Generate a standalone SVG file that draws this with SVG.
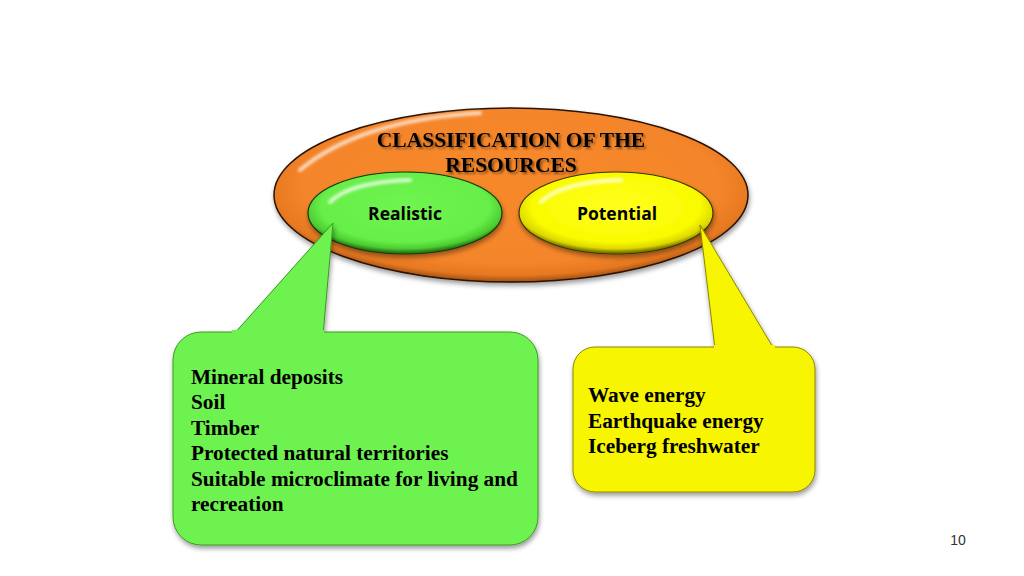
<svg xmlns="http://www.w3.org/2000/svg" width="1024" height="576" viewBox="0 0 1024 576">
<defs>
<style>
.serif{font-family:"Liberation Serif","Times New Roman",serif;font-weight:bold;fill:#000}
.sans{font-family:"Open Sans","Liberation Sans",Arial,sans-serif;font-weight:bold;fill:#000}
.title{font-size:21.5px;text-anchor:middle}
.item{font-size:21.3px}
.lbl{font-size:17.5px;text-anchor:middle}
.gloss{fill:none;stroke:#fff;stroke-linecap:round}
</style>
<radialGradient id="gOr" cx="0.5" cy="0.45" r="0.55">
<stop offset="0" stop-color="#f7892a"/><stop offset="0.8" stop-color="#f5852a"/><stop offset="0.93" stop-color="#e57820"/><stop offset="1" stop-color="#a04e12"/>
</radialGradient>
<radialGradient id="gGr" cx="0.5" cy="0.42" r="0.56">
<stop offset="0" stop-color="#70f550"/><stop offset="0.78" stop-color="#66ee48"/><stop offset="0.92" stop-color="#4ccc30"/><stop offset="1" stop-color="#2a7a18"/>
</radialGradient>
<radialGradient id="gYe" cx="0.5" cy="0.42" r="0.56">
<stop offset="0" stop-color="#ffff20"/><stop offset="0.78" stop-color="#fafa00"/><stop offset="0.92" stop-color="#dcd800"/><stop offset="1" stop-color="#7d7a00"/>
</radialGradient>
<filter id="sh" x="-10%" y="-10%" width="125%" height="130%">
<feGaussianBlur in="SourceAlpha" stdDeviation="2.5"/><feOffset dx="1" dy="3" result="b"/>
<feComponentTransfer><feFuncA type="linear" slope="0.4"/></feComponentTransfer>
<feMerge><feMergeNode/><feMergeNode in="SourceGraphic"/></feMerge>
</filter>
<filter id="blur"><feGaussianBlur stdDeviation="1.5"/></filter>
<filter id="tsh" x="-5%" y="-20%" width="110%" height="140%">
<feOffset in="SourceAlpha" dx="1.5" dy="1.5"/><feGaussianBlur stdDeviation="0.8"/>
<feComponentTransfer><feFuncA type="linear" slope="0.45"/></feComponentTransfer>
<feMerge><feMergeNode/><feMergeNode in="SourceGraphic"/></feMerge>
</filter>
</defs>
<rect width="1024" height="576" fill="#fff"/>

<g id="classification">
<ellipse cx="511" cy="195" rx="237" ry="87" fill="url(#gOr)" stroke="#2a1200" stroke-width="1.5" filter="url(#sh)"/>
<path class="gloss" d="M300,170 Q360,120 480,113" stroke-width="4" opacity="0.7" filter="url(#blur)"/>
<text class="serif title" x="511" y="147" filter="url(#tsh)">CLASSIFICATION OF THE</text>
<text class="serif title" x="511" y="172" filter="url(#tsh)">RESOURCES</text>
</g>

<g id="realistic">
<ellipse cx="405" cy="213" rx="97" ry="41" fill="url(#gGr)" stroke="#103a08" stroke-width="1.2" filter="url(#sh)"/>
<path class="gloss" d="M330,202 Q350,182 410,180" stroke-width="4" opacity="0.75" filter="url(#blur)"/>
<text class="sans lbl" x="405" y="220">Realistic</text>
</g>

<g id="potential">
<ellipse cx="616" cy="213" rx="97" ry="41" fill="url(#gYe)" stroke="#3a3800" stroke-width="1.2" filter="url(#sh)"/>
<path class="gloss" d="M541,202 Q561,182 621,180" stroke-width="4" opacity="0.75" filter="url(#blur)"/>
<text class="sans lbl" x="617" y="220">Potential</text>
</g>

<g id="connectors">
<polygon points="233,335 333,223 323,335" fill="#6ef24f" stroke="#3a9a22" stroke-width="1" filter="url(#sh)"/>
<polygon points="715,349 700,225 774,349" fill="#f8f500" stroke="#8a8600" stroke-width="1" filter="url(#sh)"/>
</g>

<g id="realistic-list">
<rect x="173" y="332" width="365" height="213" rx="28" fill="#6ef24f" stroke="#3a9a22" stroke-width="1" filter="url(#sh)"/>
<rect x="232" y="330" width="92" height="8" fill="#6ef24f"/>
<text class="serif item" x="191" y="384">Mineral deposits</text>
<text class="serif item" x="191" y="409">Soil</text>
<text class="serif item" x="191" y="435">Timber</text>
<text class="serif item" x="191" y="460">Protected natural territories</text>
<text class="serif item" x="191" y="486">Suitable microclimate for living and</text>
<text class="serif item" x="191" y="511">recreation</text>
</g>

<g id="potential-list">
<rect x="573" y="347" width="242" height="145" rx="22" fill="#f8f500" stroke="#8a8600" stroke-width="1" filter="url(#sh)"/>
<rect x="714" y="345" width="61" height="8" fill="#f8f500"/>
<text class="serif item" x="588" y="402">Wave energy</text>
<text class="serif item" x="588" y="428">Earthquake energy</text>
<text class="serif item" x="588" y="453">Iceberg freshwater</text>
</g>

<text x="958" y="545" font-family="'Liberation Sans',Arial,sans-serif" font-size="14" fill="#333" text-anchor="middle">10</text>
</svg>
